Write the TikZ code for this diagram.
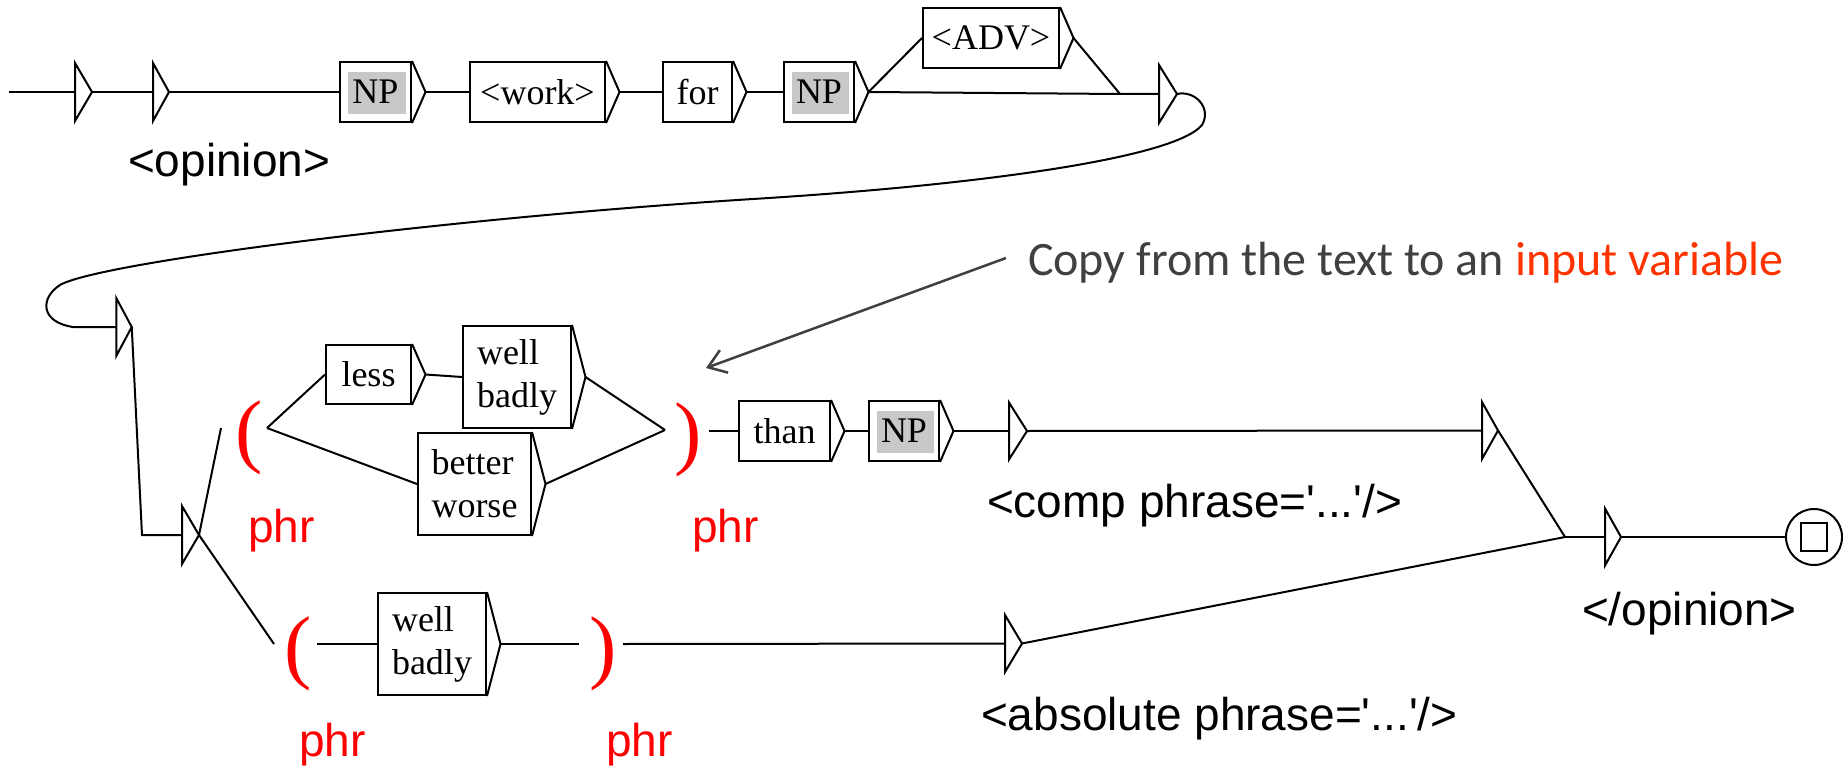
\documentclass[tikz,border=0pt]{standalone}
\usepackage{fontspec}
\setmainfont{Liberation Serif}
\newfontfamily\unisans{Liberation Sans}
\newfontfamily\calib{Carlito}
\usetikzlibrary{calc,arrows.meta}
\definecolor{npgrey}{HTML}{C8C8C8}
\definecolor{phrred}{HTML}{FF0000}
\definecolor{notegrey}{HTML}{404040}
\definecolor{notered}{HTML}{FF3300}
\begin{document}
\begin{tikzpicture}[x=1pt,y=-1pt,line width=2pt,
  ubox/.style={draw, rectangle, inner sep=0pt, minimum height=60pt, align=left,
    font=\fontsize{36}{43}\selectfont},
  npbox/.style={ubox, path picture={\fill[npgrey]
    ([xshift=8pt,yshift=8pt]path picture bounding box.south west) rectangle
    ([xshift=-5pt,yshift=-10pt]path picture bounding box.north east);}},
  tri/.style={rectangle, inner sep=0pt, minimum width=14pt, minimum height=56pt},
  lbl/.style={anchor=base west, inner sep=0pt, font=\unisans\fontsize{46}{55}\selectfont},
  phrlbl/.style={lbl, text=phrred},
  paren/.style={inner sep=0pt, text=phrred, font=\fontsize{82}{90}\selectfont},
]
\useasboundingbox (0,0) rectangle (1843,767);

% ---------- top row ----------
\coordinate (s0) at (9,92);
\node[tri, minimum width=15pt] (t1) at (83.5,92) {};
\node[tri] (t2) at (161,92) {};
\node[npbox, minimum width=71pt] (np1) at (375.5,92) {NP};
\node[ubox, minimum width=135pt] (work) at (537.5,92) {<work>};
\node[ubox, minimum width=69pt] (forb) at (697.5,92) {for};
\node[npbox, minimum width=70pt] (np2) at (819,92) {NP};
\node[ubox, minimum width=136pt] (adv) at (991,38) {<ADV>};
\coordinate (e1) at (1120,94);
\node[tri, minimum width=16pt] (t3) at (1168,94) {};
\node[lbl] (lopinion) at (127,177) {<opinion>};

% ---------- middle ----------
\node[tri, minimum width=13.5pt] (t4) at (124,327) {};
\coordinate (bend1) at (142,535);
\node[tri, minimum width=15pt] (t5) at (190.5,535) {};

\coordinate (lp1in) at (221,428);
\coordinate (lp1out) at (267,428);
\node[paren] (lpar1) at (249,437.5) {(};
\node[phrlbl] (phr1) at (247,542) {phr};

\node[ubox, minimum width=85pt, minimum height=59pt] (less) at (368.5,374.5) {less};
\node[ubox, minimum width=108pt, minimum height=102pt] (wb1) at (517,377) {well\\badly};
\node[ubox, minimum width=113pt, minimum height=102pt] (bw) at (474.5,484) {better\\worse};

\coordinate (rp1in) at (665,430);
\coordinate (rp1out) at (709,431);
\node[paren] (rpar1) at (688.5,440) {)};
\node[phrlbl] (phr2) at (691,542) {phr};

\node[ubox, minimum width=91pt] (than) at (784.5,431) {than};
\node[npbox, minimum width=70pt] (np3) at (904,431) {NP};
\node[tri, minimum width=16pt, minimum height=55pt] (t6) at (1018,431) {};
\node[lbl] (lcomp) at (986,517) {<comp phrase=\textquotesingle...\textquotesingle/>};
\node[tri, minimum height=55pt] (t7) at (1490,430.5) {};

\coordinate (merge) at (1565,537);
\node[tri, minimum height=55pt] (t8) at (1613,537) {};
\node[circle, draw, minimum size=56pt, inner sep=0pt] (fin) at (1814,537) {};
\node[lbl] (lend) at (1581,625) {</opinion>};

% ---------- lower ----------
\coordinate (lp2in) at (274,644);
\coordinate (lp2out) at (317,644);
\node[paren] (lpar2) at (298,653.5) {(};
\node[phrlbl] (phr3) at (298,756) {phr};
\node[ubox, minimum width=108pt, minimum height=102pt] (wb2) at (432,644) {well\\badly};
\coordinate (rp2in) at (579,644);
\coordinate (rp2out) at (623,644);
\node[paren] (rpar2) at (603,653.5) {)};
\node[phrlbl] (phr4) at (605,756) {phr};
\node[tri, minimum width=15pt, minimum height=55pt] (t9) at (1013.5,643.5) {};
\node[lbl] (labs) at (980,730) {<absolute phrase=\textquotesingle...\textquotesingle/>};

% ---------- box arrows ----------
\foreach \b in {np1,work,forb,np2,adv,less,wb1,bw,than,np3,wb2}{
  \coordinate (\b-tip) at ($(\b.east)+(13.5,0)$);
  \draw[line join=miter] (\b.north east) -- (\b-tip) -- (\b.south east);
}
\foreach \t in {t1,t2,t3,t4,t5,t6,t7,t8,t9}{
  \draw[line join=miter] (\t.north west) -- (\t.east) -- (\t.south west) -- cycle;
}
\draw ($(fin)+(-13,-14)$) rectangle ($(fin)+(13,14)$);

% ---------- connectors ----------
\draw (s0) -- (t1.west);
\draw (t1.east) -- (t2.west);
\draw (t2.east) -- (np1.west);
\draw (np1-tip) -- (work.west);
\draw (work-tip) -- (forb.west);
\draw (forb-tip) -- (np2.west);
\draw (np2-tip) -- (adv.west);
\draw (adv-tip) -- (e1);
\draw (np2-tip) -- (e1) -- (t3.west);
\draw (t3.east) .. controls (1195,90) and (1212,108) .. (1202,125)
  .. controls (1175,158) and (980,185) .. (753,199)
  .. controls (450,218) and (100,262) .. (60,285)
  .. controls (40,298) and (40,322) .. (73,327) -- (t4.west);
\draw (t4.east) -- (bend1) -- (t5.west);
\draw (t5.east) -- (lp1in);
\draw (t5.east) -- (lp2in);
\draw (lp1out) -- (less.west);
\draw (lp1out) -- (bw.west);
\draw (less-tip) -- (wb1.west);
\draw (wb1-tip) -- (rp1in);
\draw (bw-tip) -- (rp1in);
\draw (rp1out) -- (than.west);
\draw (than-tip) -- (np3.west);
\draw (np3-tip) -- (t6.west);
\draw (t6.east) -- (t7.west);
\draw (t7.east) -- (merge);
\draw (lp2out) -- (wb2.west);
\draw (wb2-tip) -- (rp2in);
\draw (rp2out) -- (t9.west);
\draw (t9.east) -- (merge);
\draw (merge) -- (t8.west);
\draw (t8.east) -- (fin.west);

% ---------- annotation ----------
\node[anchor=base west, inner sep=0pt, text=notegrey, font=\calib\fontsize{48}{58}\selectfont]
  (note) at (1027,275) {Copy from the text to an \textcolor{notered}{input variable}};
\coordinate (arrS) at (1006,258);
\coordinate (arrT) at (706,368);
\draw[notegrey, line width=2.5pt, -{Straight Barb[length=17pt,width=24pt,line width=2.5pt]}] (arrS) -- (arrT);
\end{tikzpicture}
\end{document}
